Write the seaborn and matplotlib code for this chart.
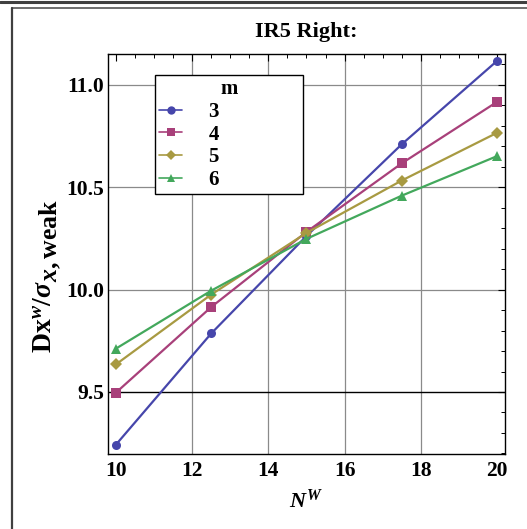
import matplotlib
matplotlib.use("Agg")
import matplotlib.pyplot as plt
from matplotlib.lines import Line2D
from matplotlib.ticker import MultipleLocator
import seaborn as sns
import pandas as pd

# ---- data ----
n_w = [10, 12.5, 15, 17.5, 20]
m_labels = ["3", "4", "5", "6"]
m3 = [9.243, 9.786, 10.262, 10.710, 11.117]
m4 = [9.497, 9.915, 10.282, 10.617, 10.917]
m5 = [9.635, 9.976, 10.277, 10.533, 10.766]
m6 = [9.712, 9.995, 10.248, 10.459, 10.652]
series = [m3, m4, m5, m6]

colors = ["#4646ab", "#a8407a", "#a89a42", "#43a85c"]
markers = ["o", "s", "D", "^"]

rows = []
for lab, vals in zip(m_labels, series):
    for x, y in zip(n_w, vals):
        rows.append({"N": x, "val": y, "m": lab})
df = pd.DataFrame(rows)

sns.set_theme(style="white")
plt.rcParams["font.family"] = ["Liberation Serif", "DejaVu Serif"]
plt.rcParams["font.weight"] = "bold"
plt.rcParams["text.color"] = "black"
plt.rcParams["axes.labelcolor"] = "black"
plt.rcParams["xtick.color"] = "black"
plt.rcParams["ytick.color"] = "black"
plt.rcParams["mathtext.fontset"] = "custom"
plt.rcParams["mathtext.rm"] = "Liberation Serif:bold"
plt.rcParams["mathtext.it"] = "Liberation Serif:italic:bold"
plt.rcParams["mathtext.bf"] = "Liberation Serif:bold"

W, H = 527, 529
fig = plt.figure(figsize=(W / 100, H / 100), dpi=100)
ax = fig.add_axes([108 / W, 1 - 454 / H, 397 / W, 400 / H])

# grid first (underneath)
for gx in [12, 14, 16, 18]:
    ax.axvline(gx, color="#8a8a8a", lw=0.9, zorder=0)
for gy in [10.0, 10.5, 11.0]:
    ax.axhline(gy, color="#8a8a8a", lw=0.9, zorder=0)
ax.axhline(9.5, color="black", lw=1.0, zorder=0)

sns.lineplot(data=df, x="N", y="val", hue="m", style="m",
             palette=colors, markers=markers, dashes=False,
             markersize=6.5, markeredgewidth=0, linewidth=1.6,
             legend=False, ax=ax, zorder=3)

ax.set_xlim(9.79, 20.21)
ax.set_ylim(9.197, 11.151)
ax.xaxis.set_minor_locator(MultipleLocator(0.5))
ax.yaxis.set_minor_locator(MultipleLocator(0.1))
ax.set_xticks([10, 12, 14, 16, 18, 20])
ax.set_yticks([9.5, 10.0, 10.5, 11.0])
ax.set_yticklabels(["9.5", "10.0", "10.5", "11.0"])
ax.tick_params(which="both", direction="in", top=True, right=True,
               colors="black", labelcolor="black", labelsize=15.5)
ax.tick_params(axis="x", pad=5)
ax.tick_params(axis="y", pad=3)
ax.tick_params(which="major", length=5, width=0.8)
ax.tick_params(which="minor", length=3, width=0.7)
for lbl in ax.get_xticklabels() + ax.get_yticklabels():
    lbl.set_fontweight("bold")
for sp in ax.spines.values():
    sp.set_color("black")
    sp.set_linewidth(1.0)

ax.set_title("IR5 Right:", fontsize=16, fontweight="bold", pad=12, color="black")
ax.set_xlabel(r"$N^{W}$", fontsize=16, labelpad=6)
ax.set_ylabel("")

# y label built from two text pieces (main part + larger subscript)
ymain = fig.text(52 / W, 1 - 353 / H, r"$\mathrm{Dx}^{w}/\mathit{\sigma}$",
                 rotation=90, rotation_mode="anchor", ha="left", va="baseline",
                 fontsize=20)
fig.canvas.draw()
bb = ymain.get_window_extent(fig.canvas.get_renderer())
fig.text(57 / W, (bb.y1 - 2) / H, r"$x,\mathrm{weak}$",
         rotation=90, rotation_mode="anchor", ha="left", va="baseline",
         fontsize=18.5)

handles = [Line2D([], [], color=c, marker=mk, markersize=6 if mk != "D" else 5,
                  markeredgewidth=0, lw=1.2)
           for c, mk in zip(colors, markers)]
leg = ax.legend(handles, [s + "               " for s in m_labels], title="m",
                loc="upper left", bbox_to_anchor=((155 - 108) / 397, (454 - 75) / 400),
                borderaxespad=0, frameon=True, fancybox=False, framealpha=1,
                edgecolor="black", fontsize=15, title_fontsize=15,
                handlelength=1.1, handletextpad=1.3, labelspacing=0.13,
                borderpad=0.2)
leg.get_frame().set_linewidth(1.0)
leg.get_title().set_fontweight("bold")
leg.get_title().set_color("black")
for t in leg.get_texts():
    t.set_fontweight("bold")
    t.set_color("black")
leg.set_zorder(5)

# outer frame lines
fig.add_artist(Line2D([0, 1], [1 - 1.5 / H, 1 - 1.5 / H], color="#404040", lw=2.2,
                      transform=fig.transFigure))
fig.add_artist(Line2D([12 / W, 1], [1 - 7.5 / H, 1 - 7.5 / H], color="#555555", lw=1.2,
                      transform=fig.transFigure))
fig.add_artist(Line2D([12 / W, 12 / W], [0, 1 - 7.5 / H], color="#404040", lw=1.6,
                      transform=fig.transFigure))

fig.savefig("out.png", dpi=100)
